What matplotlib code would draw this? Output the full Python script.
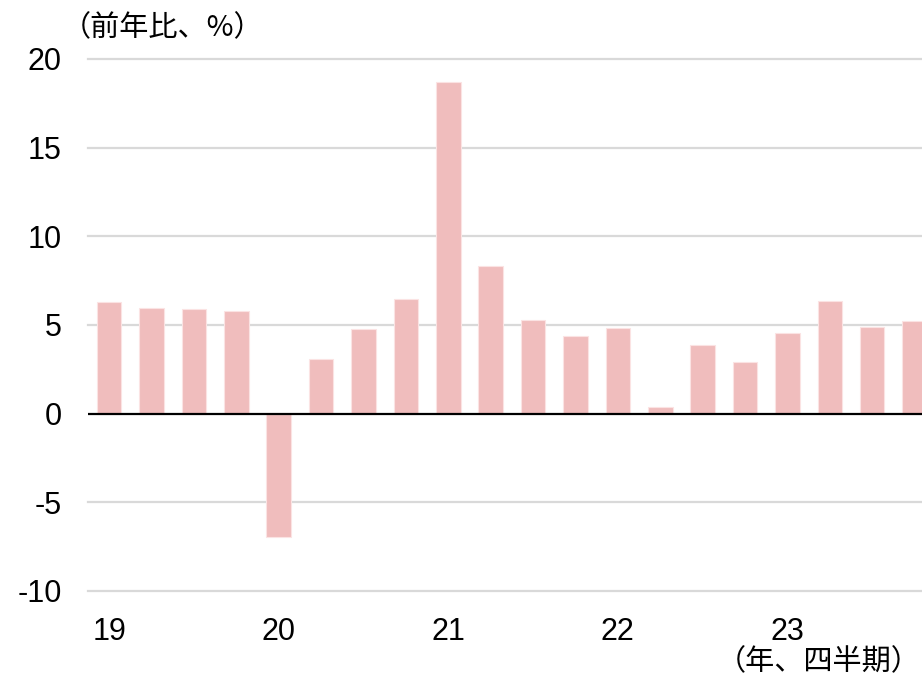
import matplotlib
matplotlib.use("Agg")
import matplotlib.pyplot as plt
import numpy as np

plt.rcParams['font.family'] = ['Liberation Sans', 'Noto Sans CJK JP', 'DejaVu Sans']

quarters = ["19Q1", "19Q2", "19Q3", "19Q4", "20Q1", "20Q2", "20Q3", "20Q4",
            "21Q1", "21Q2", "21Q3", "21Q4", "22Q1", "22Q2", "22Q3", "22Q4",
            "23Q1", "23Q2", "23Q3", "23Q4"]
values = [6.3, 5.97, 5.88, 5.78, -6.95, 3.07, 4.8, 6.45,
          18.73, 8.32, 5.28, 4.37, 4.81, 0.37, 3.9, 2.92,
          4.54, 6.35, 4.88, 5.25]
year_labels = ["19", "20", "21", "22", "23"]
yticks = [-10, -5, 0, 5, 10, 15, 20]

fig = plt.figure(figsize=(9.22, 6.77), dpi=100)
ax = fig.add_axes([88/922, 86/677, 1 - 88/922, (591 - 59)/677])

x = np.arange(len(values))
ax.bar(x, values, width=0.58, color="#F0BDBD", edgecolor="#FBE3E3", linewidth=0.8, zorder=3)

ax.set_xlim(-0.5, len(values) - 1 + 0.175)
ax.set_ylim(-10, 20)
ax.set_yticks(yticks)
ax.set_yticklabels([str(v) for v in yticks])
ax.set_xticks(x[::4])
ax.set_xticklabels(year_labels)

for v in yticks:
    if v != 0:
        ax.axhline(v, color="#D9D9D9", linewidth=1.6, zorder=1, clip_on=False)
ax.axhline(0, color="black", linewidth=1.6, zorder=4)

for s in ax.spines.values():
    s.set_visible(False)
ax.tick_params(axis="both", length=0, labelsize=22, colors="black")
ax.tick_params(axis="y", pad=19)
ax.tick_params(axis="x", pad=19)

cjk = ['Noto Sans CJK JP', 'DejaVu Sans']
fig.text(62/922, 1 - 28/677, "（前年比、%）", family=cjk, fontsize=21,
         ha="left", va="center")
fig.text(921/922, 1 - 662/677, "（年、四半期）", family=cjk, fontsize=21,
         ha="right", va="center")

fig.savefig("out.png", dpi=100)
